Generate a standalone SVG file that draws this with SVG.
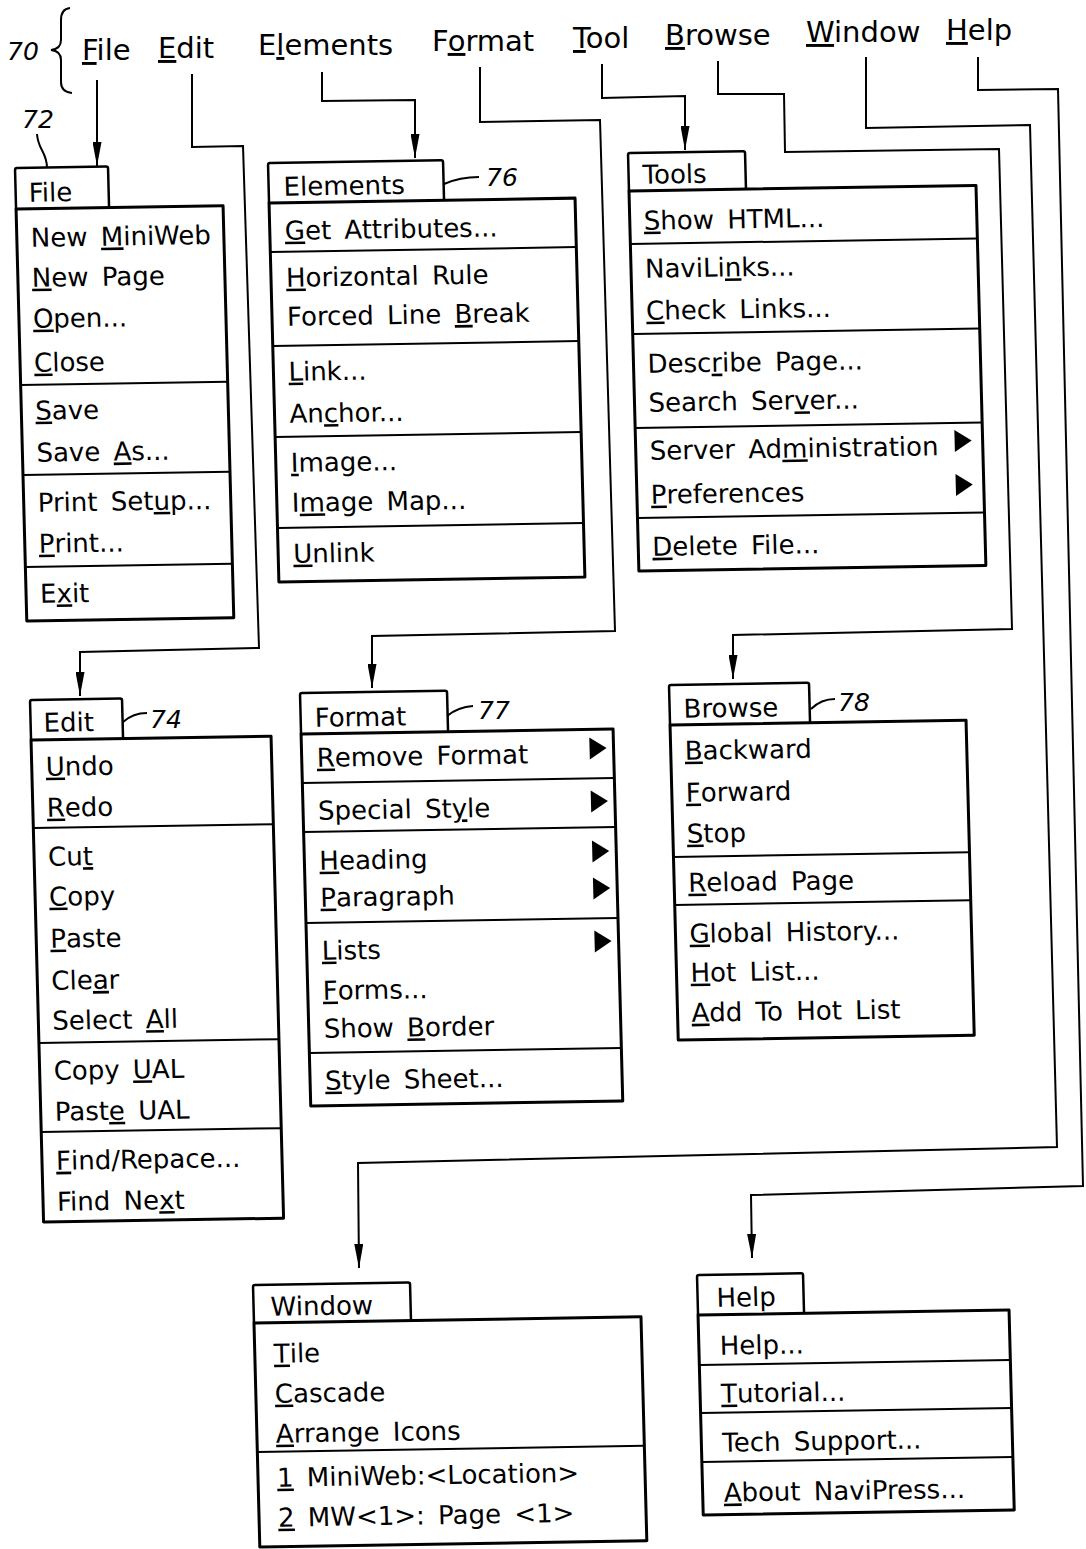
<svg xmlns="http://www.w3.org/2000/svg" width="1086" height="1549" viewBox="0 0 1086 1549">
<style>
.box{fill:none;stroke:#000;stroke-width:3;stroke-linejoin:round}
.tab{fill:none;stroke:#000;stroke-width:2.5;stroke-linejoin:round}
.sep{stroke:#000;stroke-width:2}
.t{font-family:"DejaVu Sans",sans-serif;font-size:26px;word-spacing:5px;fill:#000}
.bar{font-family:"DejaVu Sans",sans-serif;font-size:29px;fill:#000}
.u{text-decoration:underline}
.num{font-family:"DejaVu Sans",sans-serif;font-style:italic;font-size:25px;fill:#000}
.conn{fill:none;stroke:#000;stroke-width:2}
.lead{fill:none;stroke:#000;stroke-width:2}
.tri{fill:#000}
</style>
<defs>
<marker id="ah" markerUnits="userSpaceOnUse" markerWidth="24" markerHeight="9" refX="24" refY="4.5" orient="auto">
<path d="M0,0 L24,4.5 L0,9 Z" fill="#000"/>
</marker>
</defs>
<rect width="1086" height="1549" fill="#fff"/>

<g id="menubar">
<text class="num" x="7" y="60">70</text>
<path class="lead" d="M70,8 Q61,9 61,20 L61,40 Q61,49 51,50 Q61,51 61,60 L61,82 Q61,92 72,93"/>
<text class="bar" x="82" y="60"><tspan class="u">F</tspan>ile</text>
<text class="bar" x="158" y="58"><tspan class="u">E</tspan>dit</text>
<text class="bar" x="258" y="55">E<tspan class="u">l</tspan>ements</text>
<text class="bar" x="432" y="51">F<tspan class="u">o</tspan>rmat</text>
<text class="bar" x="573" y="48"><tspan class="u">T</tspan>ool</text>
<text class="bar" x="665" y="45"><tspan class="u">B</tspan>rowse</text>
<text class="bar" x="806" y="42"><tspan class="u">W</tspan>indow</text>
<text class="bar" x="946" y="40"><tspan class="u">H</tspan>elp</text>
</g>

<g id="connectors">
<path class="conn" marker-end="url(#ah)" d="M97,80 V166"/>
<path class="conn" marker-end="url(#ah)" d="M192,74 V147 L243,146 L259,648 L80,652 L80,696"/>
<path class="conn" marker-end="url(#ah)" d="M322,72 V101 L415,100 L415,158"/>
<path class="conn" marker-end="url(#ah)" d="M480,67 V122 L600,120 L615,631 L372,636 L372,688"/>
<path class="conn" marker-end="url(#ah)" d="M602,64 V98 L685,96 L685,150"/>
<path class="conn" marker-end="url(#ah)" d="M718,61 V94 L784,94 L785,152 L999,149 L1012,629 L733,635 L733,679"/>
<path class="conn" marker-end="url(#ah)" d="M866,57 V128 L1030,125 L1057,1147 L358,1163 L359,1268"/>
<path class="conn" marker-end="url(#ah)" d="M978,57 V90 L1058,89 L1083,1186 L751,1195 L752,1258"/>
</g>

<g id="file-menu">
<text class="num" x="22" y="128">72</text>
<path class="lead" d="M37,134 C38,150 47,152 47,168"/>
<g transform="translate(15,168) matrix(1,-0.016,0.026,1,0,0)">
<path class="tab" d="M0,41 V2 Q0,0 2,0 H91 Q93,0 93,2 V41"/>
<rect class="box" x="0" y="41" width="207" height="412"/>
<text class="t" x="13" y="34">File</text>
<text class="t" x="14" y="79">New <tspan class="u">M</tspan>iniWeb</text>
<text class="t" x="14" y="119"><tspan class="u">N</tspan>ew Page</text>
<text class="t" x="14" y="160"><tspan class="u">O</tspan>pen...</text>
<text class="t" x="14" y="204"><tspan class="u">C</tspan>lose</text>
<line class="sep" x1="0" y1="217" x2="207" y2="217"/>
<text class="t" x="14" y="252"><tspan class="u">S</tspan>ave</text>
<text class="t" x="14" y="294">Save <tspan class="u">A</tspan>s...</text>
<line class="sep" x1="0" y1="307" x2="207" y2="307"/>
<text class="t" x="14" y="344">Print Set<tspan class="u">u</tspan>p...</text>
<text class="t" x="14" y="385"><tspan class="u">P</tspan>rint...</text>
<line class="sep" x1="0" y1="399" x2="207" y2="399"/>
<text class="t" x="14" y="435">E<tspan class="u">x</tspan>it</text>
</g>
</g>

<g id="elements-menu">
<text class="num" x="486" y="186">76</text>
<path class="lead" d="M444,184 Q460,177 479,177"/>
<g transform="translate(268,163) matrix(1,-0.016,0.026,1,0,0)">
<path class="tab" d="M0,40 V2 Q0,0 2,0 H173 Q175,0 175,2 V40"/>
<rect class="box" x="0" y="40" width="306" height="379"/>
<text class="t" x="15" y="33">Elements</text>
<text class="t" x="15" y="77"><tspan class="u">G</tspan>et Attributes...</text>
<line class="sep" x1="0" y1="89" x2="306" y2="89"/>
<text class="t" x="15" y="124"><tspan class="u">H</tspan>orizontal Rule</text>
<text class="t" x="15" y="163">Forced Line <tspan class="u">B</tspan>reak</text>
<line class="sep" x1="0" y1="183" x2="306" y2="183"/>
<text class="t" x="15" y="218"><tspan class="u">L</tspan>ink...</text>
<text class="t" x="15" y="260">An<tspan class="u">c</tspan>hor...</text>
<line class="sep" x1="0" y1="274" x2="306" y2="274"/>
<text class="t" x="15" y="309"><tspan class="u">I</tspan>mage...</text>
<text class="t" x="15" y="349">I<tspan class="u">m</tspan>age Map...</text>
<line class="sep" x1="0" y1="365" x2="306" y2="365"/>
<text class="t" x="15" y="400"><tspan class="u">U</tspan>nlink</text>
</g>
</g>

<g id="tools-menu">
<g transform="translate(628,153) matrix(1,-0.016,0.026,1,0,0)">
<path class="tab" d="M0,38 V2 Q0,0 2,0 H115 Q117,0 117,2 V38"/>
<rect class="box" x="0" y="38" width="347" height="380"/>
<text class="t" x="14" y="31">Tools</text>
<text class="t" x="14" y="77"><tspan class="u">S</tspan>how HTML...</text>
<line class="sep" x1="0" y1="91" x2="347" y2="91"/>
<text class="t" x="14" y="125">NaviLi<tspan class="u">n</tspan>ks...</text>
<text class="t" x="14" y="167"><tspan class="u">C</tspan>heck Links...</text>
<line class="sep" x1="0" y1="181" x2="347" y2="181"/>
<text class="t" x="14" y="220">Desc<tspan class="u">r</tspan>ibe Page...</text>
<text class="t" x="14" y="259">Search Ser<tspan class="u">v</tspan>er...</text>
<line class="sep" x1="0" y1="275" x2="347" y2="275"/>
<text class="t" x="14" y="307">Server Ad<tspan class="u">m</tspan>inistration</text>
<path class="tri" d="M319,282 L319,304 L336,293 Z"/>
<text class="t" x="14" y="351"><tspan class="u">P</tspan>references</text>
<path class="tri" d="M319,326 L319,348 L336,337 Z"/>
<line class="sep" x1="0" y1="365" x2="347" y2="365"/>
<text class="t" x="14" y="403"><tspan class="u">D</tspan>elete File...</text>
</g>
</g>

<g id="edit-menu">
<text class="num" x="150" y="728">74</text>
<path class="lead" d="M123,722 Q133,713 147,713"/>
<g transform="translate(30,700) matrix(1,-0.016,0.026,1,0,0)">
<path class="tab" d="M0,40 V2 Q0,0 2,0 H90 Q92,0 92,2 V40"/>
<rect class="box" x="0" y="40" width="240" height="482"/>
<text class="t" x="13" y="32">Edit</text>
<text class="t" x="14" y="76"><tspan class="u">U</tspan>ndo</text>
<text class="t" x="14" y="117"><tspan class="u">R</tspan>edo</text>
<line class="sep" x1="0" y1="128" x2="240" y2="128"/>
<text class="t" x="14" y="166">Cu<tspan class="u">t</tspan></text>
<text class="t" x="14" y="206"><tspan class="u">C</tspan>opy</text>
<text class="t" x="14" y="248"><tspan class="u">P</tspan>aste</text>
<text class="t" x="14" y="290">Cle<tspan class="u">a</tspan>r</text>
<text class="t" x="14" y="330">Select <tspan class="u">A</tspan>ll</text>
<line class="sep" x1="0" y1="343" x2="240" y2="343"/>
<text class="t" x="14" y="380">Copy <tspan class="u">U</tspan>AL</text>
<text class="t" x="14" y="421">Past<tspan class="u">e</tspan> UAL</text>
<line class="sep" x1="0" y1="432" x2="240" y2="432"/>
<text class="t" x="14" y="470"><tspan class="u">F</tspan>ind/Repace...</text>
<text class="t" x="14" y="511">Find Ne<tspan class="u">x</tspan>t</text>
</g>
</g>

<g id="format-menu">
<text class="num" x="478" y="719">77</text>
<path class="lead" d="M447,716 Q458,707 473,706"/>
<g transform="translate(300,693) matrix(1,-0.016,0.026,1,0,0)">
<path class="tab" d="M0,41 V2 Q0,0 2,0 H145 Q147,0 147,2 V41"/>
<rect class="box" x="0" y="41" width="312" height="372"/>
<text class="t" x="14" y="34">Format</text>
<text class="t" x="15" y="74"><tspan class="u">R</tspan>emove Format</text>
<path class="tri" d="M288,49 L288,71 L305,60 Z"/>
<line class="sep" x1="0" y1="90" x2="312" y2="90"/>
<text class="t" x="15" y="127">Special St<tspan class="u">y</tspan>le</text>
<path class="tri" d="M288,102 L288,124 L305,113 Z"/>
<line class="sep" x1="0" y1="139" x2="312" y2="139"/>
<text class="t" x="15" y="177"><tspan class="u">H</tspan>eading</text>
<path class="tri" d="M288,152 L288,174 L305,163 Z"/>
<text class="t" x="15" y="214"><tspan class="u">P</tspan>aragraph</text>
<path class="tri" d="M288,189 L288,211 L305,200 Z"/>
<line class="sep" x1="0" y1="230" x2="312" y2="230"/>
<text class="t" x="15" y="267"><tspan class="u">L</tspan>ists</text>
<path class="tri" d="M288,242 L288,264 L305,253 Z"/>
<text class="t" x="15" y="307"><tspan class="u">F</tspan>orms...</text>
<text class="t" x="15" y="345">Show <tspan class="u">B</tspan>order</text>
<line class="sep" x1="0" y1="360" x2="312" y2="360"/>
<text class="t" x="15" y="397"><tspan class="u">S</tspan>tyle Sheet...</text>
</g>
</g>

<g id="browse-menu">
<text class="num" x="838" y="711">78</text>
<path class="lead" d="M811,709 Q821,699 835,699"/>
<g transform="translate(669,685) matrix(1,-0.016,0.026,1,0,0)">
<path class="tab" d="M0,40 V2 Q0,0 2,0 H138 Q140,0 140,2 V40"/>
<rect class="box" x="0" y="40" width="296" height="315"/>
<text class="t" x="14" y="33">Browse</text>
<text class="t" x="14" y="75"><tspan class="u">B</tspan>ackward</text>
<text class="t" x="14" y="117"><tspan class="u">F</tspan>orward</text>
<text class="t" x="14" y="158"><tspan class="u">S</tspan>top</text>
<line class="sep" x1="0" y1="172" x2="296" y2="172"/>
<text class="t" x="14" y="207"><tspan class="u">R</tspan>eload Page</text>
<line class="sep" x1="0" y1="220" x2="296" y2="220"/>
<text class="t" x="14" y="258"><tspan class="u">G</tspan>lobal History...</text>
<text class="t" x="14" y="297"><tspan class="u">H</tspan>ot List...</text>
<text class="t" x="14" y="337"><tspan class="u">A</tspan>dd To Hot List</text>
</g>
</g>

<g id="window-menu">
<g transform="translate(253,1285) matrix(1,-0.016,0.026,1,0,0)">
<path class="tab" d="M0,38 V2 Q0,0 2,0 H155 Q157,0 157,2 V38"/>
<rect class="box" x="0" y="38" width="387" height="224"/>
<text class="t" x="17" y="31">Window</text>
<text class="t" x="19" y="78"><tspan class="u">T</tspan>ile</text>
<text class="t" x="19" y="118"><tspan class="u">C</tspan>ascade</text>
<text class="t" x="19" y="158"><tspan class="u">A</tspan>rrange Icons</text>
<line class="sep" x1="0" y1="167" x2="387" y2="167"/>
<text class="t" x="19" y="202"><tspan class="u">1</tspan> MiniWeb:&lt;Location&gt;</text>
<text class="t" x="19" y="242"><tspan class="u">2</tspan> MW&lt;1&gt;: Page &lt;1&gt;</text>
</g>
</g>

<g id="help-menu">
<g transform="translate(697,1275) matrix(1,-0.016,0.026,1,0,0)">
<path class="tab" d="M0,40 V2 Q0,0 2,0 H104 Q106,0 106,2 V40"/>
<rect class="box" x="0" y="40" width="311" height="200"/>
<text class="t" x="19" y="32">Help</text>
<text class="t" x="21" y="80">Help...</text>
<line class="sep" x1="0" y1="90" x2="311" y2="90"/>
<text class="t" x="21" y="128"><tspan class="u">T</tspan>utorial...</text>
<line class="sep" x1="0" y1="138" x2="311" y2="138"/>
<text class="t" x="21" y="177">Tech Support...</text>
<line class="sep" x1="0" y1="187" x2="311" y2="187"/>
<text class="t" x="21" y="227"><tspan class="u">A</tspan>bout NaviPress...</text>
</g>
</g>
</svg>
